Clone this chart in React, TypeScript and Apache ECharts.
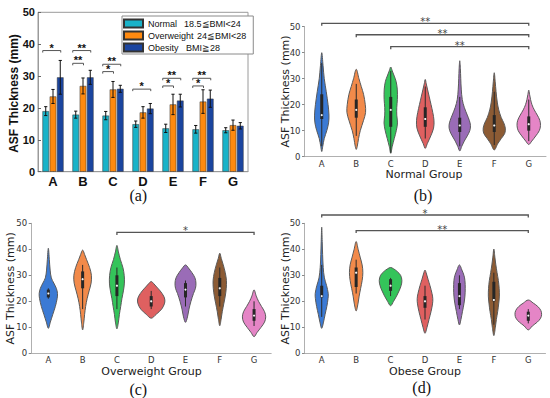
import React, { useEffect, useRef } from "react";
import * as echarts from "echarts";

// ---------- Panel (a): grouped bars ----------
const groups = ["A", "B", "C", "D", "E", "F", "G"];
const legendNames = ["Normal", "Overweight", "Obesity"];
const legendRanges = ["18.5≦BMI<24", "24≦BMI<28", "BMI≧28"];
const barNormal = [19.0, 17.9, 17.6, 14.9, 13.6, 13.3, 13.0];
const barOver = [23.6, 26.9, 25.8, 18.6, 21.1, 22.0, 14.6];
const barObese = [29.6, 29.6, 26.0, 19.8, 22.3, 22.9, 14.4];
const errNormal = [1.4, 1.1, 1.3, 1.0, 1.3, 1.2, 0.8];
const errOver = [2.2, 2.5, 2.5, 1.8, 3.2, 3.7, 1.6];
const errObese = [5.3, 2.2, 1.1, 1.6, 2.0, 2.7, 1.0];

// significance brackets of panel (a): category, from bar, to bar, height, label
const sigCat = [0, 1, 1, 2, 2, 3, 4, 4, 5, 5];
const sigFrom = [0, 0, 0, 0, 0, 0, 0, 0, 0, 0];
const sigTo = [2, 2, 1, 2, 1, 2, 2, 1, 2, 1];
const sigVal = [38.0, 38.0, 34.0, 33.7, 31.4, 25.9, 29.3, 26.9, 29.3, 26.9];
const sigLabel = ["*", "**", "**", "**", "*", "*", "**", "*", "**", "*"];

// ---------- Violin panels: [value, relative density] profiles ----------
const normalProfiles: number[][][] = [
  [[2, 0], [4, 1], [7, 2.5], [10, 5], [13, 6.8], [16, 7.2], [20, 6.3], [25, 4.5], [30, 2.5], [35, 1.3], [40, 0]],
  [[2.8, 0], [4, 1], [7, 2.3], [10, 4], [14, 7.3], [17, 9.3], [20, 9], [24, 7.3], [27, 5], [30, 2.7], [33.6, 0]],
  [[1.3, 0], [4, 1.5], [7, 3.5], [10, 5.5], [13, 6.7], [16, 6], [19, 6], [22, 6.6], [26, 6.5], [29, 5.3], [31, 3.5], [33, 1.5], [34.5, 0]],
  [[3.2, 0], [5, 2], [8, 5.5], [11, 8.3], [14, 8.7], [17, 7.5], [20, 5.8], [23, 4], [26, 2.2], [28, 1], [29.7, 0]],
  [[2.2, 0], [4, 2], [6, 4.5], [8, 7.5], [10, 10], [12, 10.7], [14, 9.5], [16, 7.5], [19, 4.5], [22, 2.5], [26, 1.5], [30, 1], [34, 0.6], [36.9, 0]],
  [[2.6, 0], [5, 3.5], [7, 7], [9, 10.5], [11, 11], [13, 9.5], [15, 7], [18, 4.5], [21, 3], [25, 1.8], [29, 0.9], [32.3, 0]],
  [[4.7, 0], [6, 3], [8, 7], [10, 10.5], [12, 11.7], [14, 11], [16, 8.5], [18, 5.5], [20, 3.2], [22, 1.8], [24, 0.8], [25.6, 0]],
];
// [whisker low, q1, median, q3, whisker high]
const normalBoxes = [
  [4, 14.5, 16, 24, 36], [8, 15, 18, 22, 28], [1.5, 11.5, 18, 23, 33], [7, 11.5, 14.5, 19, 27],
  [4, 9.5, 12, 15, 23], [4.5, 9.5, 12, 16, 25], [6, 10, 12.5, 15.5, 22],
];
const normalBrackets: [number, number, number, string][] = [
  [0, 6, 51.3, "**"], [1, 6, 46.9, "**"], [2, 6, 42.3, "**"],
];

const overProfiles: number[][][] = [
  [[9.6, 0], [12, 2], [15, 4.5], [18, 7], [21, 8.8], [23, 9.2], [25, 8], [27, 5.5], [29, 3], [32, 1.8], [36, 1], [40.4, 0]],
  [[9, 0], [12, 1.2], [15, 2], [18, 3], [21, 4.5], [24, 6.5], [27, 8.5], [30, 8.8], [33, 7], [36, 4], [38, 2], [39.7, 0]],
  [[9.4, 0], [12, 1.5], [15, 2.5], [18, 3.8], [21, 5], [24, 6.5], [27, 7.5], [30, 7.3], [33, 6], [36, 3.5], [39, 1.5], [41.5, 0]],
  [[13.5, 0], [15, 5], [17, 10.5], [19, 13.2], [20.5, 13.7], [22, 12.5], [24, 9], [25.5, 5.5], [26.8, 2.5], [27.6, 0]],
  [[11.9, 0], [14, 2], [17, 3.5], [20, 5.5], [23, 8], [25, 10], [27, 10.5], [29, 9.5], [31, 6.5], [32.8, 3], [34, 0]],
  [[10.6, 0], [13, 1.3], [16, 2.5], [19, 4], [22, 5.5], [25, 6.5], [28, 6.7], [31, 5.5], [34, 3.5], [36.5, 1.5], [38.5, 0]],
  [[6.4, 0], [8, 3], [10, 7], [12, 10.5], [14, 11.7], [16, 10.5], [18, 7.5], [20, 4.5], [22, 2.2], [24.4, 0]],
];
const overBoxes = [
  [21, 21.5, 23, 24.5, 25], [17, 25, 28.5, 31.5, 34], [17, 22, 26, 30, 33], [17, 18, 20, 22, 24],
  [18, 21.5, 24.5, 27, 28], [18, 22, 25, 29, 33], [10.5, 12.5, 14.5, 17, 20],
];
const overBrackets: [number, number, number, string][] = [[2, 6, 46.5, "*"]];

const obeseProfiles: number[][][] = [
  [[9.6, 0], [12, 1.8], [15, 3.4], [18, 5.1], [21, 6.3], [23, 6.5], [26, 4.9], [29, 2.7], [33, 1.5], [38, 0.9], [43, 0.5], [48.5, 0]],
  [[16.3, 0], [19, 1.8], [22, 3], [25, 4.5], [28, 6], [31, 6.7], [34, 6], [37, 4], [40, 2], [43, 0]],
  [[18.3, 0], [20, 3], [22, 6], [24, 8.5], [26, 10.5], [28, 11.3], [30, 10], [31.5, 6.5], [32.5, 3], [33, 0]],
  [[7.7, 0], [10, 2], [13, 4], [16, 6], [19, 7.5], [21, 7.8], [23, 7], [26, 5], [28.5, 3], [30.5, 1.5], [32, 0]],
  [[10.9, 0], [13, 1.5], [16, 3], [19, 4.5], [22, 5.5], [25, 5.8], [28, 5.5], [30, 4.5], [32, 2.5], [34, 0]],
  [[6.8, 0], [10, 1.5], [13, 2.5], [16, 3.8], [19, 4.8], [22, 5.5], [25, 5.3], [28, 4.5], [31, 3.2], [34, 2], [37, 1], [40.1, 0]],
  [[9, 0], [10.5, 4], [12, 9], [13.5, 12.3], [15, 13.3], [16.5, 12.5], [18, 9.5], [19.3, 5], [20.5, 0]],
];
const obeseBoxes = [
  [14, 21.5, 22, 26, 34], [23, 25.5, 31, 33, 36], [22, 24, 26, 28.5, 29], [13, 17.5, 20, 22, 26],
  [17, 18.5, 22, 27, 30], [11, 20, 20.5, 27.5, 31], [11.5, 12.5, 14.5, 16, 17],
];
const obeseBrackets: [number, number, number, string][] = [[0, 6, 53.2, "*"], [1, 6, 47.2, "**"]];

const yTicks = [0, 10, 20, 30, 40, 50];

// ---------- styles ----------
const barColors = ["#19b2c8", "#ff8a10", "#1b45a0"];
const violinColors = ["#3b7ad4", "#f28a4a", "#34c45a", "#df6060", "#9a6cb7", "#8c5b34", "#e585c6"];
const BAR_W = 6.6;
const BAR_STEP = 7.26;
const SANS = "Liberation Sans";
const DJ = "DejaVu Sans";
const SERIF = "Liberation Serif";

function violinRender(profiles: number[][][], boxes: number[][]) {
  return (params: any, api: any) => {
    const i = params.dataIndex;
    const cx = api.coord([i, 0])[0];
    const k = api.size([1, 0])[0] / 34.4;
    const prof = profiles[i];
    const pts: number[][] = [];
    for (let j = 0; j < prof.length; j++) {
      pts.push([cx + prof[j][1] * k, api.coord([i, prof[j][0]])[1]]);
    }
    for (let j = prof.length - 2; j >= 1; j--) {
      pts.push([cx - prof[j][1] * k, api.coord([i, prof[j][0]])[1]]);
    }
    const b = boxes[i];
    const y = (v: number) => api.coord([i, v])[1];
    return {
      type: "group",
      children: [
        { type: "polygon", shape: { points: pts, smooth: 0.35 }, style: { fill: violinColors[i], stroke: "#5a5a5a", lineWidth: 1 } },
        { type: "line", shape: { x1: cx, y1: y(b[0]), x2: cx, y2: y(b[4]) }, style: { stroke: "#2b2b2b", lineWidth: 1 } },
        { type: "rect", shape: { x: cx - 1.5, y: y(b[3]), width: 3, height: y(b[1]) - y(b[3]) }, style: { fill: "#262626" } },
        { type: "circle", shape: { cx, cy: y(b[2]), r: 1.1 }, style: { fill: "#f4f4f4" } },
      ],
    };
  };
}

function bracketRender(list: [number, number, number, string][]) {
  return (params: any, api: any) => {
    const [a, b, v, label] = list[params.dataIndex];
    const p1 = api.coord([a, v]);
    const p2 = api.coord([b, v]);
    return {
      type: "group",
      children: [
        {
          type: "polyline",
          shape: { points: [[p1[0], p1[1] + 2.5], [p1[0], p1[1]], [p2[0], p1[1]], [p2[0], p1[1] + 2.5]] },
          style: { stroke: "#555", lineWidth: 1.3, fill: "none" },
        },
        {
          type: "text",
          x: (p1[0] + p2[0]) / 2,
          y: p1[1] - 1.5,
          style: { text: label, align: "center", verticalAlign: "middle", fontSize: 10, lineHeight: 8, fontFamily: DJ, fill: "#444" },
        },
      ],
    };
  };
}

function violinAxes(gi: number) {
  const line = { show: true, lineStyle: { color: "#b0b0b0", width: 1 } };
  return {
    x: {
      type: "category", gridIndex: gi, data: groups, boundaryGap: true,
      axisLine: line, axisTick: { show: false },
      axisLabel: { fontFamily: DJ, fontSize: 8.5, color: "#333", margin: 2.5 },
    },
    y: {
      type: "value", gridIndex: gi, min: 0, max: 50, interval: 10,
      axisLine: line, axisTick: { show: true, length: 2.5, lineStyle: { color: "#888" } },
      splitLine: { show: false },
      axisLabel: { fontFamily: DJ, fontSize: 8.5, color: "#333", margin: 4, formatter: (v: number) => (yTicks.includes(v) ? String(v) : "") },
    },
  };
}

export default function App() {
  const ref = useRef<HTMLDivElement>(null);
  useEffect(() => {
    document.body.style.margin = "0";
    const chart = echarts.init(ref.current!, null, { renderer: "svg" });
    const vb = violinAxes(1), vc = violinAxes(2), vd = violinAxes(3);

    const means = [barNormal, barOver, barObese];
    const errs = [errNormal, errOver, errObese];
    const errItems: number[][] = [];
    for (let s = 0; s < 3; s++) for (let i = 0; i < groups.length; i++) errItems.push([i, means[s][i], errs[s][i], s]);

    const violinSeries = (gi: number, profiles: number[][][], boxes: number[][], brackets: [number, number, number, string][]) => [
      {
        type: "custom", xAxisIndex: gi, yAxisIndex: gi, z: 3, colorBy: "series", itemStyle: { color: "#555" },
        renderItem: violinRender(profiles, boxes),
        data: boxes.map((b, i) => [i, b[2]]), encode: { x: 0, y: 1 },
      },
      {
        type: "custom", xAxisIndex: gi, yAxisIndex: gi, z: 4, clip: false, colorBy: "series", itemStyle: { color: "#444" },
        renderItem: bracketRender(brackets),
        data: brackets.map((b) => [b[0], b[2]]), encode: { x: 0, y: 1 },
      },
    ];

    const title = (text: string, x: number, y: number, rot: number, font: string, size: number, weight: string, color: string) => ({
      type: "text", x, y, rotation: rot, silent: true,
      style: { text, fontFamily: font, fontSize: size, fontWeight: weight, fill: color, align: "center", verticalAlign: "middle" },
    });

    const legendRich = (w: number) => ({ width: w, fontFamily: SANS, fontSize: 9, color: "#111" });

    const option: any = {
      animation: false,
      backgroundColor: "#ffffff",
      grid: [
        { left: 38, top: 12.3, width: 210, height: 159.4, show: true, borderColor: "#9a9a9a", borderWidth: 1, backgroundColor: "transparent" },
        { left: 304.5, top: 26.7, width: 241.5, height: 130 },
        { left: 31.2, top: 223.3, width: 240, height: 130 },
        { left: 304.5, top: 223.3, width: 241, height: 130 },
      ],
      legend: {
        left: 122, top: 16, orient: "vertical", itemWidth: 19, itemHeight: 8, itemGap: 1, itemTextGap: 3,
        padding: [2, 7, 1, 1], borderColor: "#8a8a8a", borderWidth: 1, backgroundColor: "#ffffff",
        icon: "rect", selectedMode: false, data: legendNames,
        formatter: (name: string) => {
          const idx = legendNames.indexOf(name);
          return `{n${idx}|${name}}{r|${legendRanges[idx]}}`;
        },
        textStyle: {
          fontFamily: SANS, fontSize: 9, color: "#111", lineHeight: 11,
          rich: { n0: legendRich(36), n1: legendRich(49), n2: legendRich(38), r: { fontFamily: SANS, fontSize: 9, color: "#111" } },
        },
      },
      xAxis: [
        {
          type: "category", gridIndex: 0, data: groups,
          axisLine: { lineStyle: { color: "#9a9a9a" } },
          axisTick: { show: true, inside: true, alignWithLabel: true, length: 3, lineStyle: { color: "#666" } },
          axisLabel: { fontFamily: SANS, fontWeight: "bold", fontSize: 13, color: "#111", margin: 3 },
        },
        vb.x, vc.x, vd.x,
      ],
      yAxis: [
        {
          type: "value", gridIndex: 0, min: 0, max: 50, interval: 10,
          axisLine: { show: true, lineStyle: { color: "#9a9a9a" } },
          axisTick: { show: true, inside: true, length: 3, lineStyle: { color: "#666" } },
          splitLine: { show: false },
          axisLabel: { fontFamily: SANS, fontWeight: "bold", fontSize: 11, color: "#111", margin: 3 },
        },
        vb.y, vc.y, vd.y,
      ],
      series: [
        ...[barNormal, barOver, barObese].map((d, s) => ({
          type: "bar", name: legendNames[s], xAxisIndex: 0, yAxisIndex: 0, data: d,
          barWidth: BAR_W, barGap: "10%",
          itemStyle: { color: barColors[s], borderColor: "#333", borderWidth: 0.5 },
        })),
        {
          type: "custom", xAxisIndex: 0, yAxisIndex: 0, z: 5, colorBy: "series", itemStyle: { color: "#111" },
          data: errItems.map((e) => [e[0], e[1]]), encode: { x: 0, y: 1 },
          renderItem: (params: any, api: any) => {
            const [i, m, e, s] = errItems[params.dataIndex];
            const x = api.coord([i, m])[0] + (s - 1) * BAR_STEP;
            const yt = api.coord([i, m + e])[1];
            const yb = api.coord([i, m - e])[1];
            const st = { stroke: "#111", lineWidth: 1 };
            return {
              type: "group",
              children: [
                { type: "line", shape: { x1: x, y1: yt, x2: x, y2: yb }, style: st },
                { type: "line", shape: { x1: x - 1.6, y1: yt, x2: x + 1.6, y2: yt }, style: st },
                { type: "line", shape: { x1: x - 1.6, y1: yb, x2: x + 1.6, y2: yb }, style: st },
              ],
            };
          },
        },
        {
          type: "custom", xAxisIndex: 0, yAxisIndex: 0, z: 5, colorBy: "series", itemStyle: { color: "#111" },
          data: sigCat.map((c, k) => [c, sigVal[k]]), encode: { x: 0, y: 1 },
          renderItem: (params: any, api: any) => {
            const k = params.dataIndex;
            const c = sigCat[k];
            const p = api.coord([c, sigVal[k]]);
            const x1 = p[0] + (sigFrom[k] - 1) * BAR_STEP - 3;
            const x2 = p[0] + (sigTo[k] - 1) * BAR_STEP + 0.5;
            return {
              type: "group",
              children: [
                {
                  type: "polyline",
                  shape: { points: [[x1, p[1] + 2], [x1, p[1]], [x2, p[1]], [x2, p[1] + 2]] },
                  style: { stroke: "#555", lineWidth: 1, fill: "none" },
                },
                {
                  type: "text", x: (x1 + x2) / 2, y: p[1] - 3,
                  style: { text: sigLabel[k], align: "center", verticalAlign: "middle", fontSize: 11, lineHeight: 6, fontWeight: "bold", fontFamily: SANS, fill: "#111" },
                },
              ],
            };
          },
        },
        ...violinSeries(1, normalProfiles, normalBoxes, normalBrackets),
        ...violinSeries(2, overProfiles, overBoxes, overBrackets),
        ...violinSeries(3, obeseProfiles, obeseBoxes, obeseBrackets),
      ],
      graphic: [
        title("ASF Thickness (mm)", 14, 93.5, Math.PI / 2, SANS, 12, "bold", "#111"),
        title("ASF Thickness (mm)", 285, 91.5, Math.PI / 2, DJ, 11, "normal", "#222"),
        title("ASF Thickness (mm)", 10.7, 288.3, Math.PI / 2, DJ, 11, "normal", "#222"),
        title("ASF Thickness (mm)", 285, 288.3, Math.PI / 2, DJ, 11, "normal", "#222"),
        title("Normal Group", 424, 174, 0, DJ, 11, "normal", "#222"),
        title("Overweight Group", 151.5, 371, 0, DJ, 11, "normal", "#222"),
        title("Obese Group", 425, 371, 0, DJ, 11, "normal", "#222"),
        title("(a)", 138.3, 195, 0, SERIF, 16, "normal", "#111"),
        title("(b)", 423, 195, 0, SERIF, 16, "normal", "#111"),
        title("(c)", 138.3, 389, 0, SERIF, 16, "normal", "#111"),
        title("(d)", 421.7, 387.5, 0, SERIF, 16, "normal", "#111"),
      ],
    };
    chart.setOption(option);
    return () => chart.dispose();
  }, []);
  return <div ref={ref} style={{ width: 550, height: 398 }} />;
}
